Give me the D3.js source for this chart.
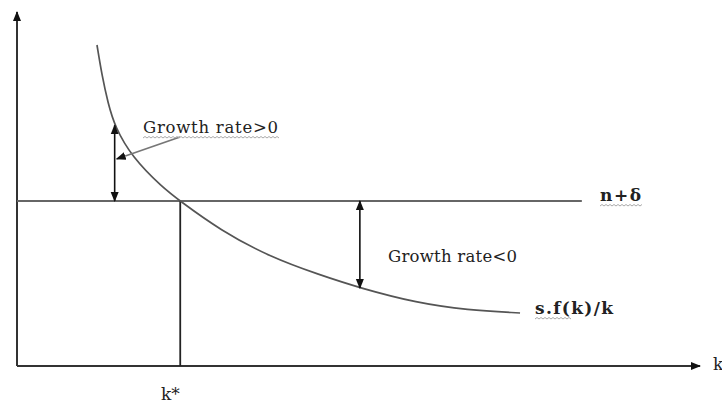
<!DOCTYPE html>
<html>
<head>
<meta charset="utf-8">
<script src="https://cdn.jsdelivr.net/npm/d3@7"></script>
<style>
  body { margin: 0; background: #fff; }
  svg { display: block; }
  text { font-family: "DejaVu Serif", "Liberation Serif", serif; fill: #222; }
</style>
</head>
<body>
<div id="chart"></div>
<script>
// curve s.f(k)/k (k, value) in 0-100 units
const curveK = [11.71, 12.45, 13.32, 14.35, 16.84, 21.23, 23.87, 29.72, 37.04, 44.36, 50.22, 58.57, 65.89, 73.65];
const curveY = [90.68, 82.00, 74.30, 67.51, 59.04, 50.56, 46.61, 38.42, 30.79, 25.71, 22.03, 17.80, 15.82, 14.97];

// n + delta line
const depLevel = 46.6;
const depEnd = 82.7;
const kStar = 23.9;

// growth arrows: k position, from, to
const arrowK = [14.3, 50.2];
const arrowFrom = [68.0, 46.6];
const arrowTo = [46.6, 22.0];

const labels = ["Growth  rate>0", "Growth rate<0", "n+δ", "s.f(k)/k", "k*", "k"];

const width = 722, height = 404;
const x = d3.scaleLinear().domain([0, 100]).range([17, 700]);
const y = d3.scaleLinear().domain([0, 100]).range([366, 12]);

const svg = d3.select("#chart").append("svg")
  .attr("width", width)
  .attr("height", height);

const defs = svg.append("defs");
defs.append("marker")
  .attr("id", "tip")
  .attr("viewBox", "0 0 10 10")
  .attr("refX", 9).attr("refY", 5)
  .attr("markerWidth", 10).attr("markerHeight", 10)
  .attr("markerUnits", "userSpaceOnUse")
  .attr("orient", "auto-start-reverse")
  .append("path")
  .attr("d", "M0,1 L10,5 L0,9 Z")
  .attr("fill", "#111");

const ink = "#333";

// axes
svg.append("line")
  .attr("x1", x(0)).attr("y1", y(0))
  .attr("x2", x(0)).attr("y2", y(100))
  .attr("stroke", ink).attr("stroke-width", 2)
  .attr("marker-end", "url(#tip)");

svg.append("line")
  .attr("x1", x(0)).attr("y1", y(0))
  .attr("x2", x(100)).attr("y2", y(0))
  .attr("stroke", ink).attr("stroke-width", 2)
  .attr("marker-end", "url(#tip)");

// n + delta
svg.append("line")
  .attr("x1", x(0)).attr("y1", y(depLevel))
  .attr("x2", x(depEnd)).attr("y2", y(depLevel))
  .attr("stroke", "#666").attr("stroke-width", 2);

// k* drop line
svg.append("line")
  .attr("x1", x(kStar)).attr("y1", y(depLevel))
  .attr("x2", x(kStar)).attr("y2", y(0))
  .attr("stroke", "#222").attr("stroke-width", 1.8);

// curve
const curvePts = curveK.map((k, i) => [k, curveY[i]]);
svg.append("path")
  .datum(curvePts)
  .attr("d", d3.line().x(d => x(d[0])).y(d => y(d[1])).curve(d3.curveBasis))
  .attr("fill", "none")
  .attr("stroke", "#555")
  .attr("stroke-width", 1.7);

// double arrows
arrowK.forEach((k, i) => {
  svg.append("line")
    .attr("x1", x(k)).attr("y1", y(arrowFrom[i]))
    .attr("x2", x(k)).attr("y2", y(arrowTo[i]))
    .attr("stroke", "#111").attr("stroke-width", 1.6)
    .attr("marker-start", "url(#tip)")
    .attr("marker-end", "url(#tip)");
});

// pointer from label to left arrow
svg.append("line")
  .attr("x1", 180).attr("y1", 137)
  .attr("x2", x(arrowK[0]) + 2).attr("y2", 159)
  .attr("stroke", "#777").attr("stroke-width", 1.8)
  .attr("marker-end", "url(#tip)");

// spell-check squiggles under some labels
function squiggle(x0, x1, yy) {
  let d = `M${x0},${yy}`;
  for (let xx = x0, up = true; xx < x1; xx += 2, up = !up) {
    d += ` L${xx + 2},${yy + (up ? -1.5 : 0)}`;
  }
  svg.append("path").attr("d", d)
    .attr("fill", "none").attr("stroke", "#aaa").attr("stroke-width", 1);
}

// labels
svg.append("text").attr("x", 143).attr("y", 133)
  .attr("font-size", 16.5).attr("textLength", 135).text(labels[0]);
squiggle(143, 278, 138);
svg.append("text").attr("x", 388).attr("y", 262)
  .attr("font-size", 16.5).attr("textLength", 129).text(labels[1]);
svg.append("text").attr("x", 600).attr("y", 201)
  .attr("font-size", 17).attr("font-weight", "bold").attr("textLength", 41).text(labels[2]);
squiggle(600, 641, 206);
svg.append("text").attr("x", 535).attr("y", 314)
  .attr("font-size", 17).attr("font-weight", "bold").attr("textLength", 78).text(labels[3]);
squiggle(535, 570, 319);
svg.append("text").attr("x", 161).attr("y", 400)
  .attr("font-size", 17).text(labels[4]);
svg.append("text").attr("x", 713).attr("y", 370)
  .attr("font-size", 17).text(labels[5]);
</script>
</body>
</html>
